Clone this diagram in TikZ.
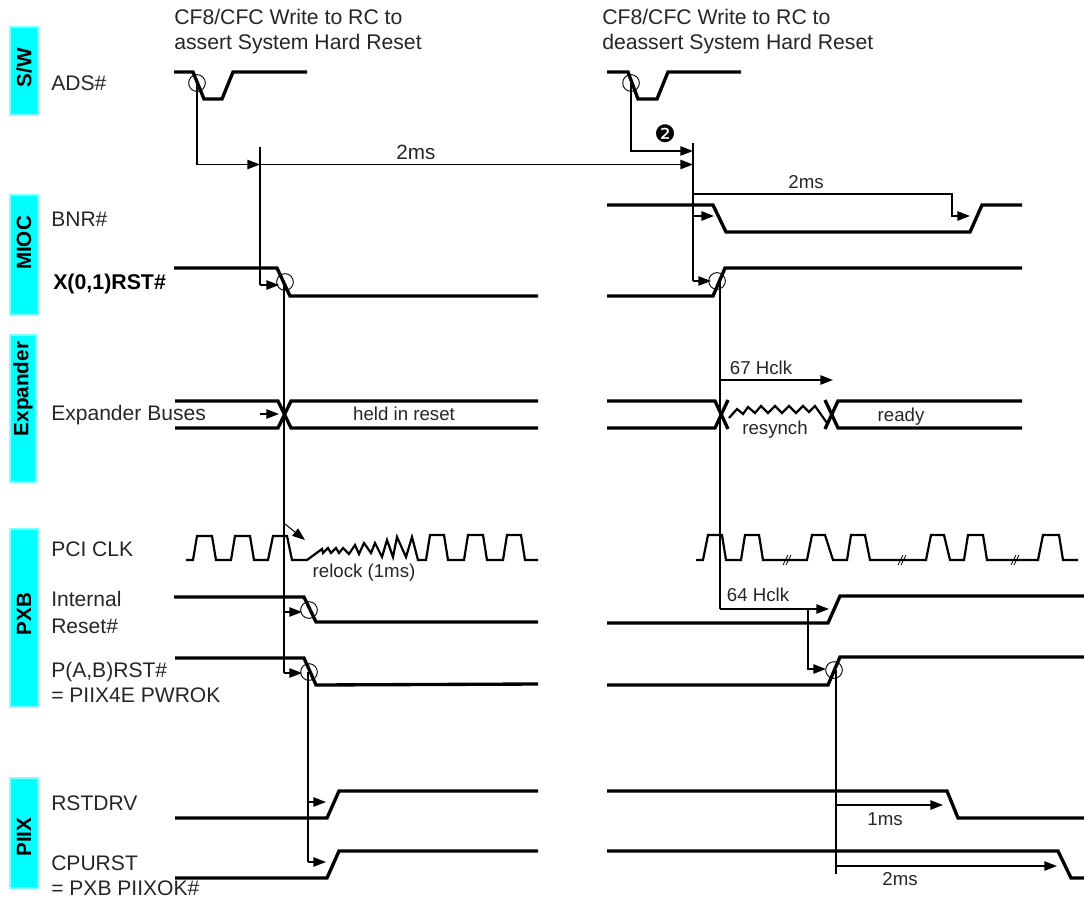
\documentclass[tikz,border=0pt]{standalone}
\usepackage{fontspec}
\setmainfont{Liberation Sans}
\newfontfamily\dejavu{DejaVu Sans}
\usetikzlibrary{arrows.meta}
\definecolor{lanefill}{RGB}{0,255,255}
\definecolor{laneedge}{RGB}{128,255,255}
\tikzset{
  x=0.75pt,y=-0.75pt,
  wave/.style={line width=2.5pt,line join=miter,line cap=butt},
  thinwave/.style={line width=1.65pt,line join=miter},
  conn/.style={line width=1.15pt,line join=miter},
  arr/.style={conn,-{Triangle[length=9.5pt,width=7pt]}},
  ring/.style={draw,circle,line width=0.7pt,minimum size=12.5pt,inner sep=0pt},
  lane/.style={draw=laneedge,fill=lanefill,line width=1.3pt},
  lanetext/.style={rotate=90,font=\fontsize{15.5}{18}\selectfont\bfseries,anchor=center},
  sig/.style={anchor=base west,font=\fontsize{15.8}{18}\selectfont,text=black!85,inner sep=0pt},
  lbl/.style={anchor=base,font=\fontsize{14}{17}\selectfont,text=black!85,inner sep=0pt},
  top/.style={anchor=base west,font=\fontsize{15.9}{18}\selectfont,text=black!85,inner sep=0pt},
}
\begin{document}
\begin{tikzpicture}
\useasboundingbox (0,0) rectangle (1084,899);
% lanes
\draw[lane] (10,27) rectangle (38,115);
\draw[lane] (10,195) rectangle (38,315);
\draw[lane] (10,335) rectangle (36,482);
\draw[lane] (10,529) rectangle (38,707);
\draw[lane] (10,778) rectangle (38,888);
\node[lanetext] (lsw) at (24,68) {S/W};
\node[lanetext] (lmioc) at (24,243) {MIOC};
\node[lanetext] (lexp) at (23,389) {Expander};
\node[lanetext] (lpxb) at (24,614) {PXB};
\node[lanetext] (lpiix) at (24,837) {PIIX};
% top text
\node[top] (t1a) at (174,25) {CF8/CFC Write to RC to};
\node[top] (t1b) at (174,50) {assert System Hard Reset};
\node[top] (t2a) at (602,25) {CF8/CFC Write to RC to};
\node[top] (t2b) at (602,50) {deassert System Hard Reset};
% signal names
\node[sig] (sads) at (51,90) {ADS\#};
\node[sig] (sbnr) at (51,226) {BNR\#};
\node[sig,font=\fontsize{16}{18}\selectfont\bfseries,text=black] (sx) at (53,289) {X(0,1)RST\#};
\node[sig] (sexp) at (51,420) {Expander Buses};
\node[sig] (spci) at (51,556) {PCI CLK};
\node[sig] (sint) at (51,606) {Internal};
\node[sig] (sres) at (51,633) {Reset\#};
\node[sig] (spab) at (51,677) {P(A,B)RST\#};
\node[sig] (spw) at (51,702) {= PIIX4E PWROK};
\node[sig] (srst) at (51,810) {RSTDRV};
\node[sig] (scpu) at (51,870) {CPURST};
\node[sig] (spxb) at (51,895) {= PXB PIIXOK\#};
% waves left
\draw[wave] (174,72) -- (193,72) -- (204,99) -- (222,99) -- (233,72) -- (307,72);
\draw[wave] (174,268) -- (277,268) -- (290,296) -- (538,296);
\draw[wave] (175,401) -- (278,401) -- (291,428) -- (538,428);
\draw[wave] (175,428) -- (278,428) -- (291,401) -- (538,401);
\draw[wave] (174,597) -- (304,597) -- (316,622) -- (538,622);
\draw[wave] (175,658) -- (304,658) -- (316,685) -- (538,684);
\draw[wave] (175,818) -- (327,818) -- (339,791) -- (538,791);
\draw[wave] (175,878) -- (327,878) -- (339,851) -- (538,851);
% waves right
\draw[wave] (607,72) -- (628,72) -- (638,99) -- (657,99) -- (668,72) -- (741,72);
\draw[wave] (607,205) -- (713,205) -- (726,232) -- (970,232) -- (982,205) -- (1022,205);
\draw[wave] (607,296) -- (713,296) -- (725,268) -- (1022,268);
\draw[wave] (607,401) -- (715,401) -- (728,429);
\draw[wave] (607,428) -- (715,428) -- (728,400);
\draw[wave] (825,400) -- (838,428) -- (1022,428);
\draw[wave] (825,429) -- (838,401) -- (1022,401);
\draw[wave] (607,623) -- (828,623) -- (840,596) -- (1084,596);
\draw[wave] (607,685) -- (828,685) -- (840,657) -- (1084,657);
\draw[wave] (607,791) -- (947,791) -- (958,818) -- (1084,818);
\draw[wave] (607,851) -- (1058,851) -- (1071,878) -- (1084,878);
% resynch wiggle
\draw[thinwave] (729,418) -- (737,409) -- (743,414) -- (748,407) -- (755,413) -- (761,406) -- (768,413) -- (775,406) -- (782,413) -- (789,406) -- (796,413) -- (803,406) -- (809,412) -- (815,406) -- (827,423);
% PCI clk left
\draw[thinwave] (186,560) -- (193,560) -- (197,536) -- (212,536) -- (216,560) -- (231,560) -- (235,536) -- (250,536) -- (254,560) -- (268,560) -- (273,536) -- (287,536) -- (292,560) -- (307,560) -- (322,549) -- (323,553) -- (328,548) -- (331,553) -- (336,548) -- (339,553) -- (343,548) -- (349,554) -- (355,545) -- (359,554) -- (364,543) -- (371,553) -- (375,543) -- (382,557) -- (387,540) -- (393,557) -- (397,537) -- (406,557) -- (412,537) -- (418,560) -- (426,560) -- (430,535) -- (444,535) -- (448,560) -- (464,560) -- (468,535) -- (483,535) -- (487,560) -- (503,560) -- (507,535) -- (521,535) -- (525,560) -- (538,560);
% PCI clk right
\draw[thinwave] (696,560) -- (703,560) -- (708,535) -- (722,535) -- (726,560) -- (741,560) -- (745,535) -- (759,535) -- (763,560) -- (807,560) -- (812,535) -- (825,535) -- (833,560) -- (847,560) -- (851,535) -- (865,535) -- (870,560) -- (926,560) -- (931,535) -- (944,535) -- (950,560) -- (964,560) -- (968,535) -- (983,535) -- (987,560) -- (1038,560) -- (1043,535) -- (1059,535) -- (1063,560) -- (1078,560);
\foreach \bx in {787,902,1015}{
  \draw[line width=0.6pt] (\bx-4,565) -- (\bx+1,555);
  \draw[line width=0.6pt] (\bx-1,565) -- (\bx+4,555);
}
% sampling circles
\node[ring] (c1) at (197,83) {};
\node[ring] (c2) at (631,83) {};
\node[ring] (c3) at (285,282) {};
\node[ring] (c4) at (717,281) {};
\node[ring] (c5) at (309,610) {};
\node[ring] (c6) at (309,672) {};
\node[ring] (c7) at (834,670) {};
% marker coordinates
\coordinate (m1) at (260,147);
\coordinate (m2) at (693,143);
\coordinate (m3) at (260,285);
\coordinate (e1) at (260,164.5);
\coordinate (e2) at (693,164.5);
\coordinate (e3) at (693,151);
% connectors
\draw[arr] (c1.center) -- (197,164.5) -- (e1);
\draw[conn] (m1) -- (m3);
\draw[arr] (m3) -- (279,285);
\draw[arr] (e1) -- (e2);
\node[lbl,font=\fontsize{15.5}{17}\selectfont] (l2a) at (416,159) {2ms};
\draw[arr] (c2.center) -- (631,151) -- (e3);
\draw[conn] (m2) -- (693,281);
\draw[arr] (693,281) -- (711,281);
\draw[arr] (693,216) -- (714,216);
\draw[arr] (693,194) -- (952,194) -- (952,216) -- (970,216);
% X(0,1) falling fan-out
\draw[conn] (284,282) -- (284,673);
\draw[arr] (260,414) -- (279,414);
\draw[arr,line width=0.8pt] (285,524) -- (305,540);
\draw[arr] (284,612) -- (302,612);
\draw[arr] (284,673) -- (302,673);
\draw[conn] (308,672) -- (308,862);
\draw[arr] (308,802) -- (326,802);
\draw[arr] (308,862) -- (326,862);
% right fan-out
\draw[conn] (720,281) -- (720,609);
\draw[arr] (720,380) -- (833,380);
\draw[arr] (720,609) -- (829,609);
\draw[arr] (808,609) -- (808,669) -- (826,669);
\draw[conn] (836,670) -- (836,874);
\draw[arr] (836,805) -- (943,805);
\draw[arr] (836,866) -- (1057,866);
% labels
\node[lbl] (lb2) at (806,188) {2ms};
\node[lbl] (lb67) at (761,374) {67 Hclk};
\node[lbl] (lbheld) at (404,420) {held in reset};
\node[lbl] (lbres) at (775,434) {resynch};
\node[lbl] (lbrdy) at (901,421) {ready};
\node[lbl] (lbrel) at (364,577) {relock (1ms)};
\node[lbl] (lb64) at (758,601) {64 Hclk};
\node[lbl] (lb1) at (885,825) {1ms};
\node[lbl] (lb2b) at (900,885) {2ms};
\node[anchor=center,inner sep=0pt,font=\fontsize{18}{20}\selectfont\dejavu] (two) at (665,134) {❷};
\end{tikzpicture}
\end{document}
